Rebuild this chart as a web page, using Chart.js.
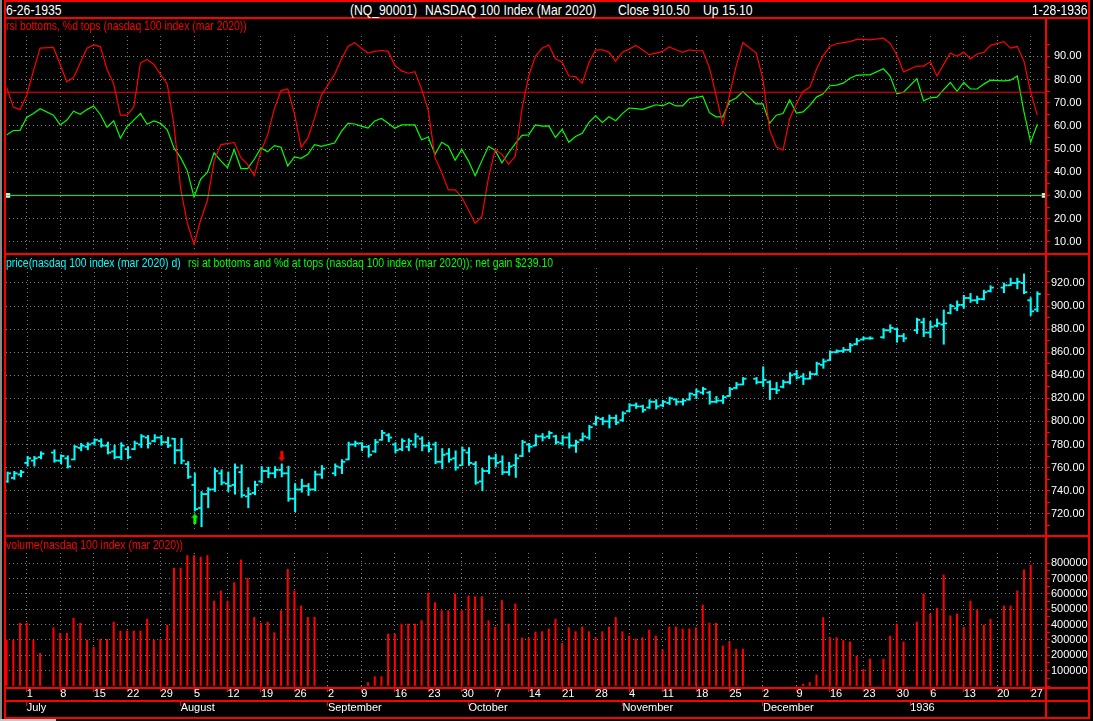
<!DOCTYPE html>
<html>
<head>
<meta charset="utf-8">
<title>NASDAQ 100 Index (Mar 2020)</title>
<script src="https://cdn.jsdelivr.net/npm/chart.js@4.4.1/dist/chart.umd.min.js"></script>
<style>
  html, body { margin:0; padding:0; background:#000; }
  #wrap { position:relative; width:1093px; height:721px; overflow:hidden; background:#000; font-family:"Liberation Sans", Arial, sans-serif; }
  canvas { position:absolute; left:0; }
  .ln { position:absolute; background:#ff0000; z-index:5; }
  .hd, .tt { position:absolute; white-space:pre; z-index:6; transform:scaleX(0.87); transform-origin:0 0; }
  .hd { color:#ffffff; font-size:14px; line-height:16px; }
  .tt { font-size:12px; line-height:14px; }
</style>
</head>
<body>
<div id="wrap">
  <div style="position:absolute;left:0;top:0;width:2px;height:721px;background:#8a8a8a"></div>
  <div style="position:absolute;left:0;top:719px;width:56px;height:2px;background:#c8c8c8"></div>

  <canvas id="c1" width="1093" height="234" style="top:19px"></canvas>
  <canvas id="c2" width="1093" height="280" style="top:255px"></canvas>
  <canvas id="c3" width="1093" height="184" style="top:537px"></canvas>

  <div class="ln" style="left:4px;top:0;width:1086px;height:2px"></div>
  <div class="ln" style="left:4px;top:17px;width:1086px;height:2px"></div>
  <div class="ln" style="left:4px;top:253px;width:1086px;height:2px"></div>
  <div class="ln" style="left:4px;top:535px;width:1086px;height:2px"></div>
  <div class="ln" style="left:4px;top:687px;width:1086px;height:2px"></div>
  <div class="ln" style="left:4px;top:700px;width:1086px;height:2px"></div>
  <div class="ln" style="left:4px;top:717px;width:1086px;height:2px"></div>
  <div class="ln" style="left:4px;top:0;width:2px;height:719px"></div>
  <div class="ln" style="left:1088px;top:0;width:2px;height:719px"></div>
  <div class="ln" style="left:1045px;top:17px;width:2px;height:702px"></div>

  <div class="hd" style="left:6px;top:2px">6-26-1935</div>
  <div class="hd" style="left:350px;top:2px">(NQ_90001)</div>
  <div class="hd" style="left:425px;top:2px">NASDAQ 100 Index (Mar 2020)</div>
  <div class="hd" style="left:618px;top:2px">Close 910.50</div>
  <div class="hd" style="left:703px;top:2px">Up 15.10</div>
  <div class="hd" style="left:1032px;top:2px">1-28-1936</div>

  <div class="tt" style="left:6px;top:19px;color:#ff0000">rsi bottoms, %d tops (nasdaq 100 index (mar 2020))</div>
  <div class="tt" style="left:6px;top:256px;color:#00ffff">price(nasdaq 100 index (mar 2020) d)</div>
  <div class="tt" style="left:188px;top:256px;color:#00ff00">rsi at bottoms and %d at tops (nasdaq 100 index (mar 2020)); net gain $239.10</div>
  <div class="tt" style="left:6px;top:538px;color:#ff0000">volume(nasdaq 100 index (mar 2020))</div>
</div>

<script>
// ---------------- DATA ----------------
// one entry per weekday slot from 6-26-1935 to 1-28-1936 (null = market holiday, no bar)
const rsi = [
  76.6, 68.1, 67.0, 73.1, 83.7, 93.5, null, 93.8, 86.5, 79.0,
  80.8, 87.2, 93.5, 94.9, 94.2, 84.4, 78.0, 64.6, 64.6, 68.1,
  87.2, 88.6, 86.5, 82.2, 78.0, 60.4, 32.9, 18.0, 8.9, 19.5,
  27.9, 44.9, 51.9, 52.3, 52.9, 46.3, 43.4, 38.5, 49.1, 56.1,
  67.4, 75.2, 75.9, 65.3, 50.8, 54.7, 63.2, 73.1, null, 82.2,
  88.6, 94.2, 95.9, 93.5, 91.4, 92.1, 92.5, 92.1, 86.1, 83.7,
  82.7, 83.4, 75.9, 66.7, 46.3, 39.9, 32.4, 32.4, 29.3, 23.7,
  18.0, 20.9, 37.8, 49.8, 47.7, 43.4, 47.0, 67.4, 81.5, 90.0,
  93.5, 94.9, 88.9, 87.5, 81.5, 81.2, 78.4, 87.2, 92.8, 92.8,
  91.7, 87.9, 91.8, 93.1, 94.7, 92.8, 90.7, 91.4, 92.1, 94.0,
  92.8, 91.7, 92.8, 92.4, 92.4, 85.1, 73.1, 60.7, 73.1, 85.8,
  95.9, null, 91.4, 80.1, 58.3, 50.9, 49.5, 63.2, 69.5, 74.8,
  76.6, 84.4, 90.3, 94.2, 95.4, 95.9, 96.3, 97.3, 97.3, 97.1,
  null, 97.8, 95.6, 90.7, 83.3, null, 85.8, 85.8, 87.6, 81.5,
  86.5, 91.4, 90.0, 91.8, 88.9, 91.0, 91.7, 94.7, null, 96.3,
  93.5, 94.2, 87.9, 74.5, 64.6
];
const pctD = [
  56.1, 58.0, 58.0, 63.6, 65.3, 67.4, null, 64.6, 60.4, 62.5,
  66.3, 65.0, 67.0, 68.6, 64.9, 59.4, 62.2, 54.7, 59.7, 62.5,
  65.3, 60.7, 62.1, 61.1, 58.3, 50.5, 46.3, 40.6, 29.3, 37.1,
  39.9, 48.4, 44.9, 42.0, 49.8, 41.6, 41.6, 45.6, 50.5, 48.8,
  51.5, 50.8, 42.7, 46.6, 46.0, 47.7, 51.9, 51.2, null, 52.6,
  57.5, 61.1, 60.8, 59.9, 59.0, 62.1, 63.2, 61.1, 59.0, 60.4,
  60.4, 60.4, 54.0, 55.2, 47.7, 52.9, 51.2, 45.2, 49.8, 44.9,
  38.5, 44.9, 51.2, 49.4, 44.1, 48.4, 52.3, 55.9, 56.1, 60.4,
  59.9, 60.0, 55.0, 58.5, 52.9, 55.4, 56.8, 61.5, 64.3, 61.5,
  63.9, 62.2, 65.3, 67.7, 67.4, 67.1, 68.1, 69.1, 68.6, 70.0,
  68.6, 68.6, 71.7, 72.2, 72.8, 65.7, 63.9, 63.9, 70.5, 72.0,
  74.8, null, 69.5, 69.5, 61.1, 64.6, 65.3, 71.2, 65.5, 66.0,
  68.8, 72.4, 73.8, 77.3, 77.6, 78.4, 80.5, 81.8, 82.0, 82.0,
  null, 84.6, 81.5, 73.8, 74.5, null, 80.4, 70.8, 72.1, 72.4,
  75.6, 78.7, 74.9, 78.7, 75.9, 75.9, 78.0, 79.7, null, 79.4,
  79.7, 81.5, 66.0, 53.0, 60.7
];
const high = [
  756.2, 756.7, 757.6, 769.7, 769.7, 773.7, null, 775.4, 771.1, 770.2,
  779.3, 781.0, 781.6, 785.0, 785.0, 782.1, 779.6, 781.6, 778.2, 783.0,
  788.6, 787.8, 788.6, 787.8, 786.4, 785.3, 785.3, 765.2, 755.3, 739.2,
  742.6, 759.5, 758.1, 756.2, 763.2, 762.4, 742.6, 748.2, 760.9, 760.4,
  760.9, 763.2, 761.2, 746.2, 749.9, 746.2, 757.0, 761.8, null, 763.2,
  766.9, 782.1, 783.0, 781.6, 779.3, 784.4, 792.3, 789.5, 781.6, 785.0,
  785.0, 789.5, 786.7, 782.1, 782.1, 776.5, 776.5, 774.5, 777.9, 777.3,
  765.2, 759.5, 770.2, 771.7, 770.2, 764.6, 771.7, 783.6, 781.0, 788.6,
  789.5, 791.5, 788.1, 787.8, 790.1, 783.8, 790.1, 796.6, 804.7, 803.6,
  805.6, 805.6, 808.4, 815.5, 816.0, 814.1, 818.9, 818.9, 818.3, 821.1,
  819.7, 819.7, 824.8, 828.2, 829.6, 826.2, 821.7, 822.5, 829.6, 833.8,
  838.1, null, 838.1, 847.4, 835.3, 833.8, 835.8, 842.3, 844.3, 841.5,
  843.2, 851.4, 854.2, 861.2, 862.1, 864.1, 867.7, 872.0, 873.4, 873.4,
  null, 880.5, 883.8, 881.0, 876.2, null, 889.5, 889.5, 886.7, 888.9,
  896.6, 901.6, 904.5, 909.3, 911.0, 908.7, 913.8, 917.7, null, 920.0,
  924.2, 924.2, 927.9, 907.3, 912.4
];
const low = [
  747.1, 749.7, 751.9, 761.2, 761.2, 767.5, null, 764.6, 763.2, 759.5,
  766.6, 774.5, 775.4, 779.3, 777.6, 771.7, 767.5, 766.9, 767.5, 775.4,
  777.3, 776.8, 782.1, 779.3, 777.3, 763.2, 763.2, 750.5, 722.3, 708.7,
  725.1, 739.2, 744.9, 739.2, 736.9, 734.1, 725.1, 736.4, 746.8, 751.1,
  751.1, 751.9, 730.7, 721.7, 738.6, 735.8, 739.8, 750.5, null, 752.8,
  754.7, 766.6, 778.2, 774.5, 768.9, 773.1, 783.6, 782.4, 772.5, 774.5,
  774.5, 777.3, 774.5, 773.7, 763.2, 759.0, 764.6, 757.6, 761.8, 761.8,
  745.4, 739.8, 754.7, 760.4, 753.9, 753.3, 751.4, 769.4, 773.7, 778.8,
  783.0, 785.0, 780.2, 779.3, 776.8, 773.1, 783.0, 784.4, 796.6, 797.2,
  794.3, 797.2, 800.0, 808.4, 811.2, 807.9, 811.2, 810.7, 812.7, 814.6,
  814.1, 814.1, 818.3, 819.7, 823.4, 814.9, 816.0, 815.5, 821.7, 828.2,
  831.6, null, 832.4, 830.2, 818.9, 824.0, 829.0, 832.4, 836.7, 831.9,
  836.7, 840.1, 846.0, 852.8, 859.3, 859.8, 860.1, 866.3, 870.6, 871.1,
  null, 872.0, 877.1, 868.6, 869.2, null, 876.2, 873.4, 872.5, 881.9,
  866.9, 893.2, 896.0, 898.0, 903.1, 902.2, 905.3, 912.1, null, 911.5,
  917.7, 914.9, 910.7, 891.8, 895.1
];
const open = [
  748, 751, 754, 764, 766, 769, null, 773, 766, 768,
  767, 777, 778, 781, 783, 779, 774, 769, 776, 776,
  780, 786, 783, 786, 782, 785, 775, 763, 745, 725,
  737, 741, 755, 746, 745, 756, 735, 738, 748, 757,
  755, 758, 755, 733, 741, 744, 741, 754, null, 755,
  760, 767, 780, 781, 778, 774, 784, 788, 780, 776,
  778, 780, 785, 779, 780, 765, 772, 768, 762, 773,
  763, 748, 757, 768, 765, 756, 762, 770, 780, 779,
  787, 787, 787, 781, 786, 779, 784, 786, 798, 802,
  800, 803, 801, 809, 814, 813, 812, 817, 814, 816,
  819, 817, 819, 823, 825, 825, 817, 818, 822, 829,
  832, null, 837, 834, 834, 828, 830, 834, 841, 839,
  837, 841, 849, 853, 860, 861, 862, 867, 871, 872,
  null, 873, 879, 880, 874, null, 879, 886, 877, 883,
  884, 894, 898, 901, 907, 905, 906, 913, null, 916,
  918, 920, 920, 905, 897
];
const close = [
  755, 755, 756, 768, 768, 772, null, 766, 770, 761,
  778, 779, 780, 784, 779, 773, 769, 779, 769, 781,
  787, 781, 786, 782, 779, 775, 766, 752, 724, 737,
  741, 757, 747, 744, 760, 736, 737, 745, 757, 755,
  758, 755, 733, 741, 744, 741, 754, 759, null, 761,
  765, 780, 781, 778, 771, 782, 790, 786, 775, 783,
  783, 787, 779, 776, 765, 771, 767, 760, 775, 764,
  747, 757, 768, 764, 756, 761, 768, 782, 778, 787,
  786, 790, 782, 786, 779, 782, 787, 795, 803, 800,
  803, 799, 807, 814, 813, 810, 817, 813, 817, 820,
  817, 818, 824, 826, 828, 817, 818, 821, 828, 832,
  837, null, 834, 836, 828, 827, 834, 840, 838, 837,
  841, 850, 852, 860, 861, 862, 866, 870, 872, 872,
  null, 879, 881, 874, 872, null, 888, 877, 882, 885,
  885, 900, 901, 907, 905, 906, 912, 916, null, 918,
  920, 921, 912, 895.4, 910.5
];
const volume = [
  300000, 300000, 409000, 409000, 300000, 213000, null, 380000, 344000, 344000,
  442000, 409000, 300000, 252000, 304000, 304000, 417000, 359000, 359000, 359000,
  359000, 435000, 300000, 304000, 396000, 768000, 768000, 850000, 850000, 839000,
  850000, 554000, 620000, 554000, 674000, 822000, 702000, 448000, 409000, 417000,
  348000, 491000, 761000, 620000, 522000, 448000, 448000, 0, null, 0,
  0, 0, 0, 0, 22000, 61000, 61000, 339000, 339000, 404000,
  404000, 404000, 426000, 605000, 543000, 491000, 491000, 600000, 491000, 587000,
  583000, 583000, 426000, 383000, 557000, 404000, 535000, 313000, 313000, 352000,
  354000, 372000, 435000, 278000, 380000, 354000, 385000, 354000, 315000, 354000,
  385000, 448000, 354000, 326000, 307000, 315000, 365000, 326000, 235000, 385000,
  385000, 372000, 372000, 380000, 528000, 409000, 409000, 261000, 287000, 241000,
  241000, null, 0, 0, 0, 0, 0, 0, 0, 13000,
  22000, 72000, 446000, 315000, 315000, 296000, 287000, 196000, 109000, 176000,
  null, 176000, 326000, 404000, 287000, null, 417000, 600000, 470000, 507000,
  724000, 457000, 470000, 383000, 554000, 496000, 398000, 435000, null, 522000,
  522000, 620000, 757000, 789000, 0
];
const rsiLevels = [74.5, 30];          // overbought line, oversold line
const handleSlots = [0.2, 155.0];      // line-handle markers on the 30 line
const buySignal = { slot: 28, price: 715.5 };
const sellSignal = { slot: 41, price: 769.9 };

const dayTickLabels = ['1','8','15','22','29','5','12','19','26','2','9','16','23','30','7','14','21','28','4','11','18','25','2','9','16','23','30','6','13','20','27'];
const monthTickLabels = ['July','August','September','October','November','December','1936'];
const rsiTicks = [10,15,20,25,30,35,40,45,50,55,60,65,70,75,80,85,90,95];
const priceTicks = [710,720,730,740,750,760,770,780,790,800,810,820,830,840,850,860,870,880,890,900,910,920,930];
const volumeTicks = [0,50000,100000,150000,200000,250000,300000,350000,400000,450000,500000,550000,600000,650000,700000,750000,800000];

// trading calendar (weekday slots)
const dates = [];
for (let t = Date.UTC(1935, 5, 26); t <= Date.UTC(1936, 0, 28); t += 86400000) {
  const d = new Date(t); const w = d.getUTCDay();
  if (w !== 0 && w !== 6) dates.push(d);
}
const mondaySlots = [];
const monthSlots = [];
dates.forEach((d, i) => {
  if (d.getUTCDay() === 1) mondaySlots.push(i);
  if (i > 0 && d.getUTCMonth() !== dates[i - 1].getUTCMonth()) monthSlots.push(i);
});

// ---------------- STYLE / LAYOUT ----------------
const X_MIN = -0.242, X_MAX = 155.29;
const GRID = '#808080';
const DOT = [1, 3];
const TICK_HALF = 0.5;
Chart.defaults.font.family = "'Liberation Sans', Arial, sans-serif";
Chart.defaults.font.size = 11;
Chart.defaults.color = '#ffffff';

function pts(arr) { const o = []; arr.forEach((v, i) => { if (v != null) o.push({ x: i, y: v }); }); return o; }
function noPad(s) { s.paddingLeft = 0; s.paddingRight = 0; s.paddingTop = 0; s.paddingBottom = 0; }

function xAxisHidden() {
  return {
    type: 'linear', min: X_MIN, max: X_MAX, bounds: 'data', offset: false,
    afterBuildTicks: s => { s.ticks = mondaySlots.map(v => ({ value: v })); },
    afterFit: s => { s.height = 0; noPad(s); },
    ticks: { display: false },
    grid: { color: GRID, lineWidth: 1, drawTicks: false, offset: false },
    border: { display: false, dash: DOT }
  };
}
function yAxis(min, max, vals, isLabel, fmt, pad) {
  return {
    type: 'linear', position: 'right', min: min, max: max, bounds: 'data',
    afterBuildTicks: s => { s.ticks = vals.map(v => ({ value: v })); },
    afterFit: s => { s.width = 47; noPad(s); },
    ticks: { color: '#ffffff', padding: pad, autoSkip: false, font: { size: 11 },
             callback: v => isLabel(v) ? fmt(v) : '' },
    grid: { color: c => (c.tick && isLabel(c.tick.value)) ? GRID : 'rgba(0,0,0,0)',
            lineWidth: 1, drawTicks: true, tickLength: 4, tickColor: '#ff0000', tickWidth: 1, offset: false },
    border: { display: false, dash: DOT }
  };
}
function base(padTop, padBottom) {
  return {
    responsive: false, maintainAspectRatio: false, animation: false, devicePixelRatio: 1, events: [],
    layout: { padding: { left: 5, right: 0, top: padTop, bottom: padBottom } },
    plugins: { legend: { display: false }, tooltip: { enabled: false }, title: { display: false } }
  };
}
function makeArrow(color, up) {
  const c = document.createElement('canvas'); c.width = 7; c.height = 11;
  const g = c.getContext('2d'); g.fillStyle = color; g.beginPath();
  if (up) { g.moveTo(3.5, 0); g.lineTo(7, 4.5); g.lineTo(0, 4.5); g.closePath(); g.fill(); g.fillRect(2, 4, 3, 7); }
  else { g.fillRect(2, 0, 3, 7); g.moveTo(0, 6.5); g.lineTo(7, 6.5); g.lineTo(3.5, 11); g.closePath(); g.fill(); }
  return c;
}

// ---------------- RSI / %D PANEL ----------------
new Chart(document.getElementById('c1'), {
  type: 'line',
  data: { datasets: [
    { data: [{ x: X_MIN, y: rsiLevels[0] }, { x: X_MAX, y: rsiLevels[0] }], borderColor: '#ff0000', borderWidth: 1, pointRadius: 0 },
    { data: [{ x: X_MIN, y: rsiLevels[1] }, { x: X_MAX, y: rsiLevels[1] }], borderColor: '#00ff00', borderWidth: 1, pointRadius: 0 },
    { data: pts(rsi), borderColor: '#ff0000', borderWidth: 1.2, pointRadius: 0, tension: 0, clip: false },
    { data: pts(pctD), borderColor: '#00ff00', borderWidth: 1.2, pointRadius: 0, tension: 0, clip: false },
    { type: 'scatter', data: handleSlots.map(s => ({ x: s, y: rsiLevels[1] })), pointStyle: 'rect', pointRadius: 3.2,
      backgroundColor: '#ffffff', borderColor: '#ffffff', borderWidth: 0, clip: false }
  ] },
  options: Object.assign(base(17, 0), {
    scales: { x: xAxisHidden(), y: yAxis(6.90, 98.75, rsiTicks, v => v % 10 === 0, v => v.toFixed(2), 4) }
  })
});

// ---------------- PRICE PANEL ----------------
const hlData = [], oData = [], cData = [];
high.forEach((h, i) => {
  if (h == null) return;
  hlData.push({ x: i, y: [low[i], high[i]] });
  oData.push({ x: i, y: [open[i] - TICK_HALF, open[i] + TICK_HALF] });
  cData.push({ x: i, y: [close[i] - TICK_HALF, close[i] + TICK_HALF] });
});
new Chart(document.getElementById('c2'), {
  type: 'bar',
  data: { datasets: [
    { data: oData, backgroundColor: '#00ffff', borderWidth: 0, barThickness: 2 },
    { data: hlData, backgroundColor: '#00ffff', borderWidth: 0, barThickness: 1.4 },
    { data: cData, backgroundColor: '#00ffff', borderWidth: 0, barThickness: 2 },
    { type: 'scatter', data: [{ x: buySignal.slot, y: buySignal.price }], pointStyle: makeArrow('#00ff00', true), pointRadius: 5, clip: false },
    { type: 'scatter', data: [{ x: sellSignal.slot, y: sellSignal.price }], pointStyle: makeArrow('#ff0000', false), pointRadius: 5, clip: false }
  ] },
  options: Object.assign(base(13, 0), {
    scales: { x: xAxisHidden(), y: yAxis(706.72, 932.99, priceTicks, v => v % 20 === 0, v => v.toFixed(2), 1) }
  })
});

// ---------------- VOLUME PANEL + DATE AXES ----------------
const volData = [];
volume.forEach((v, i) => { if (v) volData.push({ x: i, y: v }); });
new Chart(document.getElementById('c3'), {
  type: 'bar',
  data: { datasets: [
    { data: volData, xAxisID: 'x', yAxisID: 'y', backgroundColor: '#ff0000', borderWidth: 0, barThickness: 1.4 }
  ] },
  options: Object.assign(base(16, 3), {
    scales: {
      x: {
        type: 'linear', position: 'bottom', min: X_MIN, max: X_MAX, bounds: 'data', offset: false,
        afterBuildTicks: s => { s.ticks = mondaySlots.map(v => ({ value: v })); },
        afterFit: s => { s.height = 14; noPad(s); },
        ticks: { display: true, color: '#ffffff', autoSkip: false, maxRotation: 0, minRotation: 0, align: 'start',
                 padding: -4.3, font: { size: 11 }, callback: (v, i) => dayTickLabels[i] },
        grid: { color: GRID, lineWidth: 1, drawTicks: true, tickLength: 6, tickColor: '#ff0000', tickWidth: 1, offset: false },
        border: { display: false, dash: DOT }
      },
      x2: {
        type: 'linear', position: 'bottom', min: X_MIN, max: X_MAX, bounds: 'data', offset: false,
        afterBuildTicks: s => { s.ticks = monthSlots.map(v => ({ value: v })); },
        afterFit: s => { s.height = 18; noPad(s); },
        ticks: { display: true, color: '#ffffff', autoSkip: false, maxRotation: 0, minRotation: 0, align: 'start',
                 padding: -4.6, font: { size: 11 }, callback: (v, i) => monthTickLabels[i] },
        grid: { color: 'rgba(0,0,0,0)', drawOnChartArea: false, drawTicks: true, tickLength: 6, tickColor: '#ff0000', tickWidth: 1, offset: false },
        border: { display: false }
      },
      y: yAxis(0, 866800, volumeTicks, v => v > 0 && v % 100000 === 0, v => String(v), 1)
    }
  })
});
</script>
</body>
</html>
